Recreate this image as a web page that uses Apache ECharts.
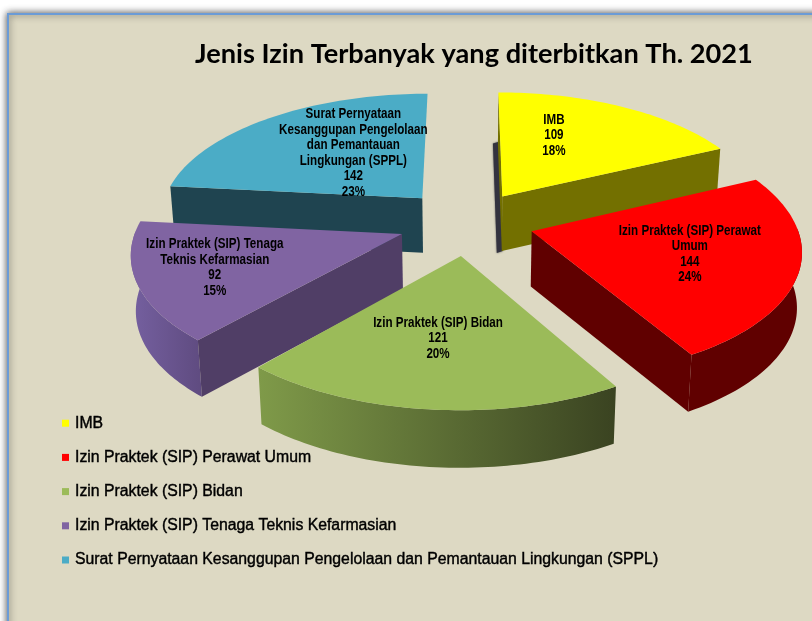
<!DOCTYPE html>
<html><head><meta charset="utf-8">
<style>html,body{margin:0;padding:0;background:#fff}#c{width:812px;height:621px}</style>
<script src="https://cdn.jsdelivr.net/npm/echarts@6/dist/echarts.min.js"></script>
</head><body><div id="c"></div>
<script>
const categories = ['IMB','Izin Praktek (SIP) Perawat Umum','Izin Praktek (SIP) Bidan','Izin Praktek (SIP) Tenaga Teknis Kefarmasian','Surat Pernyataan Kesanggupan Pengelolaan dan Pemantauan Lingkungan (SPPL)'];
const values = [109,144,121,92,142];
const percents = [18,24,20,15,23];
const labelNames = ['IMB','Izin Praktek (SIP) Perawat\nUmum','Izin Praktek (SIP) Bidan','Izin Praktek (SIP) Tenaga\nTeknis Kefarmasian','Surat Pernyataan\nKesanggupan Pengelolaan\ndan Pemantauan\nLingkungan (SPPL)'];
const topColors = ['#ffff00','#ff0000','#9bbb59','#8064a2','#4bacc6'];
const radialWall = ['#737000','#600000','#3c4522','#503e66','#1f4450'];
const arcWall = [
  '#737000','#600000',
  {type:'linear',x:0,y:0,x2:1,y2:0,colorStops:[{offset:0,color:'#7f9a49'},{offset:1,color:'#3a4321'}]},
  {type:'linear',x:0,y:0,x2:1,y2:0,colorStops:[{offset:0,color:'#7560a0'},{offset:1,color:'#5f4b80'}]},
  '#1f4450'];
const labelPolar = [[22,.6],[107,.6],[187.5,.575],[249,.715],[324,.495]];
const explodeBy = [66,66,70,70,70];
const paintOrder = [0,4,3,1,2];

const view = {cx:468, cy:222, R:264, tilt:.47, persp:2000, height:55, taper:.985};
const total = values.reduce((a,b)=>a+b,0);
const rad = d=>d*Math.PI/180;
let acc = 0;
const spans = values.map(v=>{const s=[acc,acc+v/total*360];acc=s[1];return s;});

function project(X,Z,low){
  const s = 1/(1-Z/view.persp);
  let x = view.cx+X*s, y = view.cy+view.tilt*Z*s;
  if(low){x = view.cx+(x-view.cx)*view.taper; y += view.height*Math.pow(s,.25);}
  return [x,y];
}
function slicePoint(i,deg,r,low){
  const mid = (spans[i][0]+spans[i][1])/2, e=explodeBy[i];
  const X = e*Math.sin(rad(mid))+r*view.R*Math.sin(rad(deg));
  const Z = -e*Math.cos(rad(mid))-r*view.R*Math.cos(rad(deg));
  return project(X,Z,low);
}
function wallShows(apex,rim,midRim){
  const ex=rim[0]-apex[0], ey=rim[1]-apex[1];
  if(Math.abs(ex/ey)<.15 && Math.abs(ey)>Math.abs(ex)) return false;
  const mx=midRim[0]-apex[0], my=midRim[1]-apex[1];
  return ex*(ex*my-ey*mx)<0;
}
function makeRender(i){
  return function(params,api){
    const [a0,a1] = spans[i];
    const top=[],low=[],frontTop=[],frontLow=[];
    for(let d=a0;d<=a1+.001;d+=(a1-a0)/60){
      const t=slicePoint(i,d,1,false), b=slicePoint(i,d,1,true);
      top.push(t);low.push(b);
      if(d>=88&&d<=272){frontTop.push(t);frontLow.push(b);}
    }
    const apexT = slicePoint(i,0,0,false), apexL = slicePoint(i,0,0,true);
    const midRim = top[30], last = top.length-1;
    const kids=[];
    const poly=(pts,fill,extra)=>kids.push({type:'polygon',shape:{points:pts},style:Object.assign({fill:fill},extra||{}),silent:true});
    if(i===0){
      const a=low[0], b=apexL;
      poly([[a[0]+2,a[1]-4],[b[0]+1,b[1]],[b[0]-5,b[1]+2],[a[0]-5,a[1]-2]],'#33333f',{shadowBlur:2,shadowColor:'#555'});
    }
    if(frontTop.length>1) poly(frontTop.concat(frontLow.slice().reverse()),arcWall[i]);
    if(wallShows(apexT,top[0],midRim)) poly([apexT,top[0],low[0],apexL],radialWall[i]);
    if(wallShows(apexT,top[last],midRim)) poly([apexT,top[last],low[last],apexL],radialWall[i]);
    if(i===0) poly([apexT,top[0],low[0],apexL],radialWall[i]);
    poly([apexT].concat(top),topColors[i]);
    const [la,lf] = labelPolar[i];
    const mid=(a0+a1)/2, e=explodeBy[i];
    const lp = project(e*Math.sin(rad(mid))+lf*view.R*Math.sin(rad(la)),
                       -e*Math.cos(rad(mid))-lf*view.R*Math.cos(rad(la)),false);
    kids.push({type:'text',x:lp[0],y:lp[1],scaleX:.83,silent:true,z2:100,style:{
      text:labelNames[i]+'\n'+api.value(0)+'\n'+percents[i]+'%',
      fill:'#000',font:'bold 14px "Liberation Sans"',
      align:'center',verticalAlign:'middle',lineHeight:15.5}});
    return {type:'group',children:kids};
  };
}
const chart = echarts.init(document.getElementById('c'),null,{renderer:'canvas'});
chart.setOption({
  animation:false,
  backgroundColor:'#ffffff',
  graphic:[{type:'rect',z:-10,silent:true,shape:{x:8,y:14,width:900,height:800},
    style:{fill:'#ddd9c3',stroke:'#6b9bd6',lineWidth:2,shadowBlur:7,shadowColor:'rgba(40,40,40,.8)'}}],
  title:{text:'Jenis Izin Terbanyak yang diterbitkan Th. 2021',left:195,top:41,padding:0,
    textStyle:{fontFamily:'Lato',fontSize:27.2,fontWeight:'bold',color:'#000'}},
  legend:{data:categories,orient:'vertical',left:62,top:415,icon:'rect',itemWidth:7,itemHeight:7,itemGap:17.8,padding:0,
    textStyle:{fontFamily:'"Liberation Sans"',fontWeight:'normal',fontSize:15.8,color:'#000',textBorderColor:'#000',textBorderWidth:.4,padding:[0,0,0,1]}},
  series:paintOrder.map(i=>({
    type:'custom',name:categories[i],coordinateSystem:'none',
    itemStyle:{color:topColors[i]},
    data:[[values[i]]],renderItem:makeRender(i),silent:true
  }))
});
</script></body></html>
